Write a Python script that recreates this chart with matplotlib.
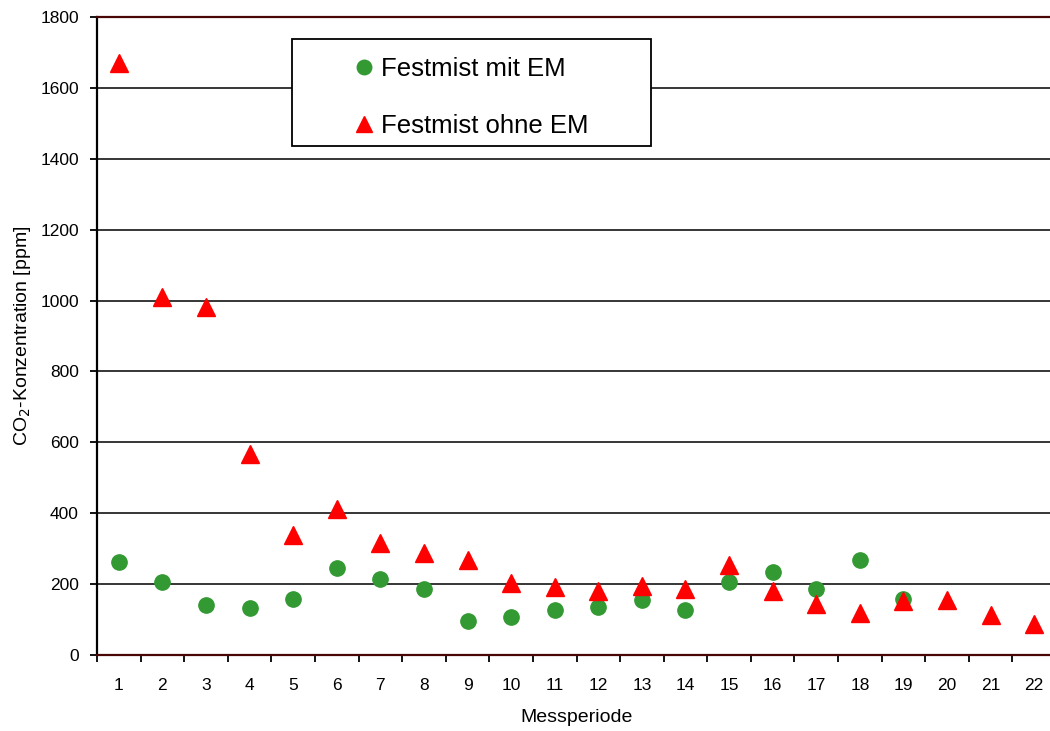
import matplotlib.pyplot as plt
from matplotlib.patches import Rectangle
from matplotlib.ticker import FixedLocator, NullFormatter

plt.rcParams["font.family"] = ["Liberation Sans", "DejaVu Sans"]

perioden = list(range(1, 23))
mit_em = [262, 206, 142, 132, 160, 245, 215, 188, 98, 109, 127,
          137, 155, 127, 206, 234, 188, 268, 160, None, None, None]
ohne_em = [1670, 1010, 982, 568, 339, 413, 316, 287, 268, 203, 192,
           181, 194, 186, 254, 180, 146, 118, 153, 157, 113, 89]
yticks = list(range(0, 1801, 200))

fig = plt.figure(figsize=(10.5, 7.31), dpi=100)
ax = fig.add_axes([97 / 1050, (731 - 655.3) / 731,
                   (1056 - 97) / 1050, (655.3 - 16.7) / 731])

# gridlines behind the markers
for y in yticks[1:-1]:
    ax.axhline(y, color="black", lw=1.1, zorder=1)

x_mit = [p for p, v in zip(perioden, mit_em) if v is not None]
y_mit = [v for v in mit_em if v is not None]
ax.plot(x_mit, y_mit, "o", color="#339933", ms=11, mec="#339933",
        label="Festmist mit EM", zorder=3)
ax.plot(perioden, ohne_em, "^", color="#ff0000", ms=12.5, mec="#ff0000",
        label="Festmist ohne EM", zorder=3)

ax.set_xlim(0.5, 22.5)
ax.set_ylim(0, 1800)

# category boundaries carry the tick marks, centres carry the labels
ax.xaxis.set_major_locator(FixedLocator([p + 0.5 for p in [0] + perioden]))
ax.xaxis.set_major_formatter(NullFormatter())
ax.xaxis.set_minor_locator(FixedLocator(perioden))
ax.set_xticklabels([str(p) for p in perioden], minor=True)
ax.tick_params(axis="x", which="major", direction="out", length=5, width=1.3)
ax.tick_params(axis="x", which="minor", length=0, pad=16, labelsize=12.5)

ax.set_yticks(yticks)
ax.tick_params(axis="y", direction="out", length=5, width=1.3, pad=8,
               labelsize=12.5)

for s in ["top", "bottom"]:
    ax.spines[s].set_color("#4a0505")
    ax.spines[s].set_linewidth(1.6)
ax.spines["left"].set_color("black")
ax.spines["left"].set_linewidth(1.6)
ax.spines["right"].set_visible(False)

ax.set_xlabel("Messperiode", fontsize=14, labelpad=12)
ax.set_ylabel("CO$_2$-Konzentration [ppm]", fontsize=14, labelpad=5)

# legend frame drawn as a plain box above the gridlines
box = Rectangle((292 / 1050, 1 - 146 / 731), (651 - 292) / 1050,
                (146 - 39) / 731, transform=fig.transFigure,
                facecolor="white", edgecolor="black", lw=1.3, zorder=4)
fig.patches.append(box)
leg = fig.legend(loc="center", bbox_to_anchor=(472 / 1050, 1 - 97.5 / 731),
                 frameon=False, numpoints=1, fontsize=18.5,
                 handlelength=0.7, handletextpad=0.3, labelspacing=1.25,
                 markerscale=0.95)
leg.set_zorder(5)

fig.savefig("out.png", dpi=100)
